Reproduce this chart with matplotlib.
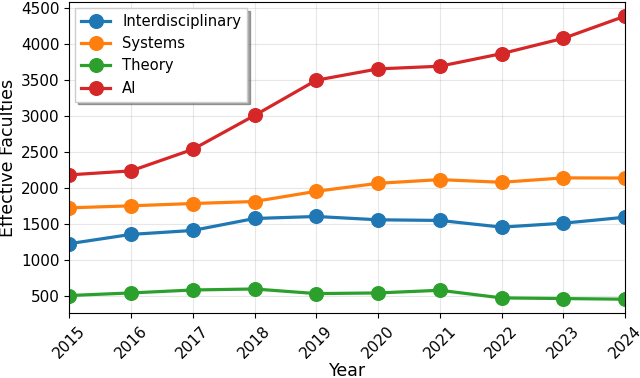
import matplotlib.pyplot as plt

years = [2015, 2016, 2017, 2018, 2019, 2020, 2021, 2022, 2023, 2024]
interdisciplinary = [1223, 1352, 1407, 1573, 1601, 1555, 1546, 1453, 1508, 1591]
systems = [1721, 1749, 1781, 1809, 1951, 2062, 2113, 2076, 2137, 2135]
theory = [503, 539, 580, 594, 530, 539, 576, 470, 461, 452]
ai = [2179, 2234, 2533, 3004, 3494, 3651, 3688, 3863, 4076, 4385]

series = [
    ('Interdisciplinary', interdisciplinary, '#1f77b4'),
    ('Systems', systems, '#ff7f0e'),
    ('Theory', theory, '#2ca02c'),
    ('AI', ai, '#d62728'),
]

fig, ax = plt.subplots(figsize=(6.4, 3.78), dpi=100)
fig.subplots_adjust(left=0.108, right=0.977, top=0.995, bottom=0.171)

for nombre, valores, color in series:
    ax.plot(years, valores, marker='o', color=color, linewidth=2.3,
            markersize=9.8, label=nombre)

ax.set_xlim(2015, 2024)
ax.set_xticks(years)
ax.set_xticklabels([str(y) for y in years], rotation=45)
ax.tick_params(labelsize=11)
ax.set_xlabel('Year', fontsize=12.5, labelpad=1)
ax.set_ylabel('Effective Faculties', fontsize=12.5, labelpad=3)
ax.grid(True, alpha=0.3)
ax.legend(loc='upper left', fontsize=10.6, shadow=True, fancybox=False,
          borderaxespad=0.4)

plt.savefig('out.png')
